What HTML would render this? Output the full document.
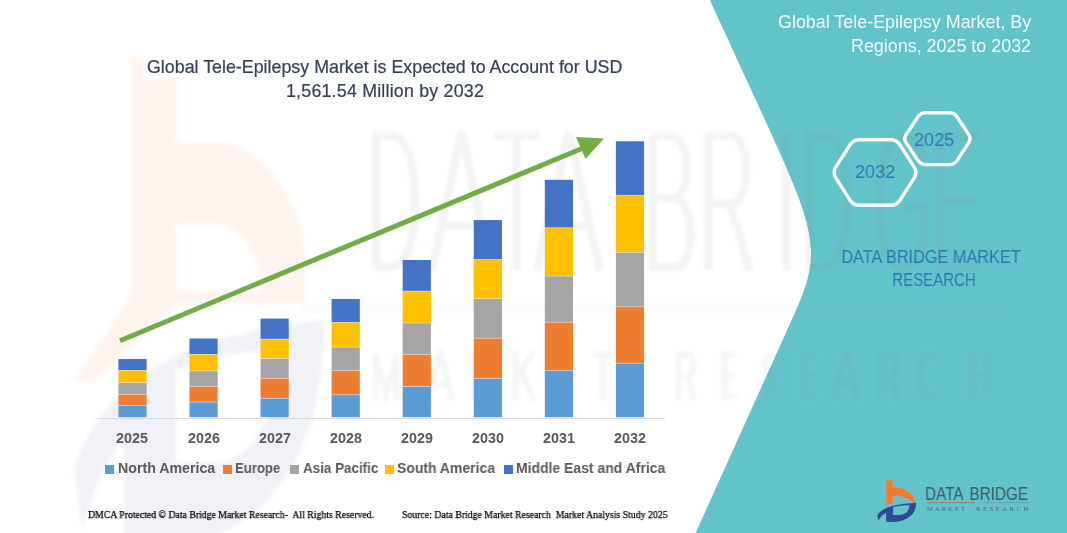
<!DOCTYPE html>
<html><head><meta charset="utf-8">
<style>
html,body{margin:0;padding:0;}
body{width:1067px;height:533px;overflow:hidden;background:#fff;position:relative;font-family:"Liberation Sans",sans-serif;}
.abs{position:absolute;white-space:pre;will-change:transform;}
svg{position:absolute;left:0;top:0;}
.t1{color:#343e58;font-size:17.83px;line-height:1;-webkit-text-stroke:0.2px #343e58;}
.yl{font-weight:bold;color:#595959;font-size:13.8px;line-height:1;}
.lg{font-weight:bold;color:#595959;font-size:14.2px;line-height:1;}
.ft{font-family:"Liberation Serif",serif;color:#000;-webkit-text-stroke:0.25px #000;font-size:10.5px;line-height:1;transform-origin:0 0;}
</style></head>
<body>
<svg width="1067" height="533" viewBox="0 0 1067 533">
  <defs><filter id="blur1" x="-10%" y="-10%" width="120%" height="120%"><feGaussianBlur stdDeviation="1.4"/></filter><filter id="blur3" x="-20%" y="-20%" width="140%" height="140%"><feGaussianBlur stdDeviation="2"/></filter></defs>
  <!-- teal panel -->
  <path d="M709.8 0 L762.7 115 C817 233.1 822.7 251.2 793.9 315 L695.6 533 L1067 533 L1067 0 Z" fill="#63c3ca"/>
  <!-- watermark logo (faint) -->
  <g filter="url(#blur3)">
    <path d="M131 57 H176 V143 H216 C262 143 305 200 305 262 V303 H176 L94 381 L74 381 L131 296 Z M176 224 H215 C242 226 262 255 263 291 H176 Z" fill="#fef3ee" fill-rule="evenodd"/>
    <path transform="translate(66.4,57) scale(6.4,11.6)" d="M1.2 35.4 C6 28 17 24 40.1 22.7 C40.5 30 37 39 20 42 L9 41.8 L9 33 C7 34.5 4 37 2.5 41 Z M17.1 27 C22 25.8 28 25.3 33.5 25.3 C33.5 30 30 34.5 24 34.9 L17.1 34.9 Z" fill="#eff1f7" fill-rule="evenodd"/>
  </g>
  <!-- watermark letters -->
  <g fill="none" stroke="#707070" stroke-opacity="0.085" stroke-width="8.5" stroke-linejoin="miter" filter="url(#blur1)">
    <path d="M376.5 135.5 V266.5 H391.8 C423.05 266.5 423.05 135.5 391.8 135.5 Z"/>
    <path d="M432 270 L461.5 132 L491 270 M444.98 225.84 H478.02"/>
    <path d="M494 135.5 H540 M517.0 135.5 V270"/>
    <path d="M537 270 L568.5 132 L600 270 M550.86 225.84 H586.14"/>
    <path d="M652.5 135.5 V266.5 H675.5 C696.1 266.5 696.1 198.24 673.2 198.24 H652.5 M673.2 198.24 C691.5 198.24 691.5 135.5 670.9 135.5 H652.5"/>
    <path d="M708.5 270 V135.5 H730.1 C751.9 135.5 751.9 203.76 730.1 203.76 H708.5 M730.1 203.76 L749.5 270"/>
    <path d="M786.5 132 V270"/>
    <path d="M809.5 135.5 V266.5 H824.5 C855.0 266.5 855.0 135.5 824.5 135.5 Z"/>
    <path d="M924.5 159.6 C918.9 135.5 905.6 135.5 900.0 135.5 C872.7 135.5 872.7 266.5 900.0 266.5 C924.5 266.5 924.5 249.3 924.5 207.9 H902.8"/>
    <path d="M980 135.5 H940.5 V266.5 H980 M940.5 201.0 H975.7"/>
    <path d="M375.5 400 V354.5 L386.0 395.1 L396.5 354.5 V400" stroke-width="6" stroke-opacity="0.075"/>
    <path d="M429 400 L440.5 351 L452 400 M434.06 384.32 H446.94" stroke-width="6" stroke-opacity="0.075"/>
    <path d="M474.5 400 V354.5 H483.95 C489.55 354.5 489.55 376.48 483.95 376.48 H474.5 M483.95 376.48 L488.5 400" stroke-width="6" stroke-opacity="0.075"/>
    <path d="M515.5 351 V400 M534 351 L515.5 380.4 M522.1 373.05 L534 400" stroke-width="6" stroke-opacity="0.075"/>
    <path d="M570 354.5 H556.5 V396.5 H570 M556.5 375.5 H568.3" stroke-width="6" stroke-opacity="0.075"/>
    <path d="M594 354.5 H612 M603.0 354.5 V400" stroke-width="6" stroke-opacity="0.075"/>
    <path d="M678.5 400 V354.5 H688.4 C694.6 354.5 694.6 376.48 688.4 376.48 H678.5 M688.4 376.48 L693.5 400" stroke-width="6" stroke-opacity="0.075"/>
    <path d="M736 354.5 H724.5 V396.5 H736 M724.5 375.5 H734.5" stroke-width="6" stroke-opacity="0.075"/>
    <path d="M773.5 358.35 C770.3 354.5 764.5 354.5 764.5 364.23 C764.5 375.5 773.5 373.05 773.5 386.28 C773.5 396.5 766.1 396.5 764.5 392.65" stroke-width="6" stroke-opacity="0.075"/>
    <path d="M815 354.5 H804.5 V396.5 H815 M804.5 375.5 H813.6" stroke-width="6" stroke-opacity="0.075"/>
    <path d="M834 400 L846.0 351 L858 400 M839.28 384.32 H852.72" stroke-width="6" stroke-opacity="0.075"/>
    <path d="M882.5 400 V354.5 H891.95 C897.55 354.5 897.55 376.48 891.95 376.48 H882.5 M891.95 376.48 L896.5 400" stroke-width="6" stroke-opacity="0.075"/>
    <path d="M934.5 358.35 C930.3 354.5 929.6 354.5 927.5 354.5 C919.45 354.5 919.45 396.5 927.5 396.5 C932.4 396.5 934.5 395.1 934.5 392.65" stroke-width="6" stroke-opacity="0.075"/>
    <path d="M971.5 351 V400 M986.5 351 V400 M971.5 375.5 H986.5" stroke-width="6" stroke-opacity="0.075"/>
    <line x1="300" y1="308" x2="1005" y2="308" stroke-width="10" stroke-opacity="0.03"/>
  </g>
  <rect x="143.5" y="49" width="482" height="30.5" fill="#fff"/>
  <!-- axis -->
  <line x1="96" y1="418.5" x2="665" y2="418.5" stroke="#d9d9d9" stroke-width="1"/>
  <g id="bars">
  <rect x="118.40" y="359.00" width="28.2" height="11.40" fill="#4472c4"/>
  <rect x="118.40" y="370.40" width="28.2" height="12.30" fill="#ffc000"/>
  <rect x="118.40" y="382.70" width="28.2" height="11.70" fill="#a5a5a5"/>
  <rect x="118.40" y="394.40" width="28.2" height="11.20" fill="#ed7d31"/>
  <rect x="118.40" y="405.60" width="28.2" height="11.60" fill="#5b9bd5"/>
  <rect x="118.40" y="370.00" width="28.2" height="0.8" fill="#fff" fill-opacity="0.45"/>
  <rect x="118.40" y="382.30" width="28.2" height="0.8" fill="#fff" fill-opacity="0.45"/>
  <rect x="118.40" y="394.00" width="28.2" height="0.8" fill="#fff" fill-opacity="0.45"/>
  <rect x="118.40" y="405.20" width="28.2" height="0.8" fill="#fff" fill-opacity="0.45"/>
  <rect x="189.47" y="338.50" width="28.2" height="15.90" fill="#4472c4"/>
  <rect x="189.47" y="354.40" width="28.2" height="16.50" fill="#ffc000"/>
  <rect x="189.47" y="370.90" width="28.2" height="15.70" fill="#a5a5a5"/>
  <rect x="189.47" y="386.60" width="28.2" height="15.50" fill="#ed7d31"/>
  <rect x="189.47" y="402.10" width="28.2" height="15.10" fill="#5b9bd5"/>
  <rect x="189.47" y="354.00" width="28.2" height="0.8" fill="#fff" fill-opacity="0.45"/>
  <rect x="189.47" y="370.50" width="28.2" height="0.8" fill="#fff" fill-opacity="0.45"/>
  <rect x="189.47" y="386.20" width="28.2" height="0.8" fill="#fff" fill-opacity="0.45"/>
  <rect x="189.47" y="401.70" width="28.2" height="0.8" fill="#fff" fill-opacity="0.45"/>
  <rect x="260.54" y="318.60" width="28.2" height="20.50" fill="#4472c4"/>
  <rect x="260.54" y="339.10" width="28.2" height="19.40" fill="#ffc000"/>
  <rect x="260.54" y="358.50" width="28.2" height="20.00" fill="#a5a5a5"/>
  <rect x="260.54" y="378.50" width="28.2" height="19.90" fill="#ed7d31"/>
  <rect x="260.54" y="398.40" width="28.2" height="18.80" fill="#5b9bd5"/>
  <rect x="260.54" y="338.70" width="28.2" height="0.8" fill="#fff" fill-opacity="0.45"/>
  <rect x="260.54" y="358.10" width="28.2" height="0.8" fill="#fff" fill-opacity="0.45"/>
  <rect x="260.54" y="378.10" width="28.2" height="0.8" fill="#fff" fill-opacity="0.45"/>
  <rect x="260.54" y="398.00" width="28.2" height="0.8" fill="#fff" fill-opacity="0.45"/>
  <rect x="331.61" y="299.00" width="28.2" height="23.50" fill="#4472c4"/>
  <rect x="331.61" y="322.50" width="28.2" height="24.60" fill="#ffc000"/>
  <rect x="331.61" y="347.10" width="28.2" height="23.60" fill="#a5a5a5"/>
  <rect x="331.61" y="370.70" width="28.2" height="24.10" fill="#ed7d31"/>
  <rect x="331.61" y="394.80" width="28.2" height="22.40" fill="#5b9bd5"/>
  <rect x="331.61" y="322.10" width="28.2" height="0.8" fill="#fff" fill-opacity="0.45"/>
  <rect x="331.61" y="346.70" width="28.2" height="0.8" fill="#fff" fill-opacity="0.45"/>
  <rect x="331.61" y="370.30" width="28.2" height="0.8" fill="#fff" fill-opacity="0.45"/>
  <rect x="331.61" y="394.40" width="28.2" height="0.8" fill="#fff" fill-opacity="0.45"/>
  <rect x="402.68" y="260.00" width="28.2" height="31.10" fill="#4472c4"/>
  <rect x="402.68" y="291.10" width="28.2" height="31.90" fill="#ffc000"/>
  <rect x="402.68" y="323.00" width="28.2" height="31.60" fill="#a5a5a5"/>
  <rect x="402.68" y="354.60" width="28.2" height="31.90" fill="#ed7d31"/>
  <rect x="402.68" y="386.50" width="28.2" height="30.70" fill="#5b9bd5"/>
  <rect x="402.68" y="290.70" width="28.2" height="0.8" fill="#fff" fill-opacity="0.45"/>
  <rect x="402.68" y="322.60" width="28.2" height="0.8" fill="#fff" fill-opacity="0.45"/>
  <rect x="402.68" y="354.20" width="28.2" height="0.8" fill="#fff" fill-opacity="0.45"/>
  <rect x="402.68" y="386.10" width="28.2" height="0.8" fill="#fff" fill-opacity="0.45"/>
  <rect x="473.75" y="220.10" width="28.2" height="39.50" fill="#4472c4"/>
  <rect x="473.75" y="259.60" width="28.2" height="39.10" fill="#ffc000"/>
  <rect x="473.75" y="298.70" width="28.2" height="39.50" fill="#a5a5a5"/>
  <rect x="473.75" y="338.20" width="28.2" height="40.30" fill="#ed7d31"/>
  <rect x="473.75" y="378.50" width="28.2" height="38.70" fill="#5b9bd5"/>
  <rect x="473.75" y="259.20" width="28.2" height="0.8" fill="#fff" fill-opacity="0.45"/>
  <rect x="473.75" y="298.30" width="28.2" height="0.8" fill="#fff" fill-opacity="0.45"/>
  <rect x="473.75" y="337.80" width="28.2" height="0.8" fill="#fff" fill-opacity="0.45"/>
  <rect x="473.75" y="378.10" width="28.2" height="0.8" fill="#fff" fill-opacity="0.45"/>
  <rect x="544.82" y="179.80" width="28.2" height="48.00" fill="#4472c4"/>
  <rect x="544.82" y="227.80" width="28.2" height="48.30" fill="#ffc000"/>
  <rect x="544.82" y="276.10" width="28.2" height="46.10" fill="#a5a5a5"/>
  <rect x="544.82" y="322.20" width="28.2" height="48.50" fill="#ed7d31"/>
  <rect x="544.82" y="370.70" width="28.2" height="46.50" fill="#5b9bd5"/>
  <rect x="544.82" y="227.40" width="28.2" height="0.8" fill="#fff" fill-opacity="0.45"/>
  <rect x="544.82" y="275.70" width="28.2" height="0.8" fill="#fff" fill-opacity="0.45"/>
  <rect x="544.82" y="321.80" width="28.2" height="0.8" fill="#fff" fill-opacity="0.45"/>
  <rect x="544.82" y="370.30" width="28.2" height="0.8" fill="#fff" fill-opacity="0.45"/>
  <rect x="615.89" y="141.30" width="28.2" height="54.30" fill="#4472c4"/>
  <rect x="615.89" y="195.60" width="28.2" height="56.80" fill="#ffc000"/>
  <rect x="615.89" y="252.40" width="28.2" height="54.40" fill="#a5a5a5"/>
  <rect x="615.89" y="306.80" width="28.2" height="56.40" fill="#ed7d31"/>
  <rect x="615.89" y="363.20" width="28.2" height="54.00" fill="#5b9bd5"/>
  <rect x="615.89" y="195.20" width="28.2" height="0.8" fill="#fff" fill-opacity="0.45"/>
  <rect x="615.89" y="252.00" width="28.2" height="0.8" fill="#fff" fill-opacity="0.45"/>
  <rect x="615.89" y="306.40" width="28.2" height="0.8" fill="#fff" fill-opacity="0.45"/>
  <rect x="615.89" y="362.80" width="28.2" height="0.8" fill="#fff" fill-opacity="0.45"/>
  </g>
  <!-- arrow -->
  <line x1="120" y1="340.7" x2="582" y2="148.5" stroke="#70ad47" stroke-width="5"/>
  <polygon points="576,137 604,138.5 585.5,159" fill="#70ad47"/>
  <!-- hexagons -->
  <path d="M835.62 177.56 Q832.40 172.50 835.62 167.44 L850.08 144.76 Q853.30 139.70 859.30 139.70 L890.70 139.70 Q896.70 139.70 899.92 144.76 L914.38 167.44 Q917.60 172.50 914.38 177.56 L899.92 200.24 Q896.70 205.30 890.70 205.30 L859.30 205.30 Q853.30 205.30 850.08 200.24 Z" fill="none" stroke="#fff" stroke-width="3.4"/>
  <path d="M906.17 142.87 Q903.40 138.70 906.17 134.53 L917.83 116.97 Q920.60 112.80 925.60 112.80 L949.40 112.80 Q954.40 112.80 957.14 116.98 L968.66 134.52 Q971.40 138.70 968.66 142.88 L957.14 160.42 Q954.40 164.60 949.40 164.60 L925.60 164.60 Q920.60 164.60 917.83 160.43 Z" fill="none" stroke="#fff" stroke-width="3.4"/>
  <!-- small logo -->
  <g transform="translate(876,480)">
    <path d="M10.1 0.2 H16.8 V7.3 C24 7.5 35 10 38.7 19.5 L39 22.3 L36.3 22.5 C34 19 27 15.5 16.8 15.2 V23.5 L8.5 24.5 L10.1 22 Z" fill="#f47a2e"/>
    <path d="M1.2 35.4 C6 28 17 24 40.1 22.7 C40.5 30 37 39 20 42 L10.1 41.8 L10.1 33 C7 34.5 4 37 2.5 41 Z M17.1 27 C22 25.8 28 25.3 33.5 25.3 C33.5 30 30 34.5 24 34.9 L17.1 34.9 Z" fill="#2f4a93" fill-rule="evenodd"/>
  </g>
  <line x1="927" y1="502.6" x2="975" y2="502.6" stroke="#9a7a62" stroke-width="0.9"/>
  <line x1="978.5" y1="502.6" x2="1031" y2="502.6" stroke="#7d99a6" stroke-width="0.9"/>
</svg>

<div class="abs t1" style="left:147.3px;top:59px;">Global Tele-Epilepsy Market is Expected to Account for USD</div>
<div class="abs t1" style="left:285.5px;top:83px;letter-spacing:0.2px;">1,561.54 Million by 2032</div>

<div class="abs yl" style="left:91.90px;width:80px;text-align:center;top:432px;transform:scaleX(1.035);">2025</div>
<div class="abs yl" style="left:163.90px;width:80px;text-align:center;top:432px;transform:scaleX(1.035);">2026</div>
<div class="abs yl" style="left:234.85px;width:80px;text-align:center;top:432px;transform:scaleX(1.035);">2027</div>
<div class="abs yl" style="left:306.25px;width:80px;text-align:center;top:432px;transform:scaleX(1.035);">2028</div>
<div class="abs yl" style="left:376.85px;width:80px;text-align:center;top:432px;transform:scaleX(1.035);">2029</div>
<div class="abs yl" style="left:448.10px;width:80px;text-align:center;top:432px;transform:scaleX(1.035);">2030</div>
<div class="abs yl" style="left:518.85px;width:80px;text-align:center;top:432px;transform:scaleX(1.035);">2031</div>
<div class="abs yl" style="left:590.10px;width:80px;text-align:center;top:432px;transform:scaleX(1.035);">2032</div>
<div class="abs" style="left:105.2px;top:464.6px;width:9px;height:9.2px;background:#5b9bd5;"></div>
<div class="abs lg" style="left:118.0px;top:460.8px;transform:scaleX(0.999);transform-origin:0 0;">North America</div>
<div class="abs" style="left:223.0px;top:464.6px;width:9px;height:9.2px;background:#ed7d31;"></div>
<div class="abs lg" style="left:234.7px;top:460.8px;transform:scaleX(0.926);transform-origin:0 0;">Europe</div>
<div class="abs" style="left:289.6px;top:464.6px;width:9px;height:9.2px;background:#a5a5a5;"></div>
<div class="abs lg" style="left:302.70000000000005px;top:460.8px;transform:scaleX(0.946);transform-origin:0 0;">Asia Pacific</div>
<div class="abs" style="left:385.2px;top:464.6px;width:9px;height:9.2px;background:#ffc000;"></div>
<div class="abs lg" style="left:397.40000000000003px;top:460.8px;transform:scaleX(0.984);transform-origin:0 0;">South America</div>
<div class="abs" style="left:503.6px;top:464.6px;width:9px;height:9.2px;background:#4472c4;"></div>
<div class="abs lg" style="left:516.1px;top:460.8px;transform:scaleX(0.984);transform-origin:0 0;">Middle East and Africa</div>

<div class="abs ft" style="left:88px;top:510px;transform:scaleX(0.93);">DMCA Protected © Data Bridge Market Research-  All Rights Reserved.</div>
<div class="abs ft" style="left:402px;top:510px;transform:scaleX(0.932);">Source: Data Bridge Market Research  Market Analysis Study 2025</div>

<div class="abs" style="right:36px;top:10px;color:#f4fcfc;font-size:17.9px;line-height:24px;text-align:right;">Global Tele-Epilepsy Market, By</div>
<div class="abs" style="right:36px;top:34px;color:#f4fcfc;font-size:17.9px;line-height:24px;text-align:right;">Regions, 2025 to 2032</div>

<div class="abs" style="left:855px;top:162px;color:#2e78b4;font-size:19px;line-height:1;transform:scaleX(0.95);transform-origin:0 0;">2032</div>
<div class="abs" style="left:913.5px;top:130px;color:#2e78b4;font-size:19px;line-height:1;transform:scaleX(0.95);transform-origin:0 0;">2025</div>

<div class="abs" style="left:831.2px;width:200px;text-align:center;top:248.6px;color:#2a78b0;font-size:17.9px;line-height:1;transform:scaleX(0.91);transform-origin:100px 0;">DATA BRIDGE MARKET</div>
<div class="abs" style="left:834.2px;width:200px;text-align:center;top:272.2px;color:#2a78b0;font-size:17.9px;line-height:1;transform:scaleX(0.84);transform-origin:100px 0;">RESEARCH</div>

<div class="abs" style="left:925.3px;top:485.3px;color:#3d5a66;font-size:18px;line-height:1;transform:scaleX(0.85);transform-origin:0 0;">DATA<span style="letter-spacing:2px"> </span>BRIDGE</div>
<div class="abs" style="left:926.5px;top:505.5px;color:#4a6670;font-family:'Liberation Serif',serif;font-size:6.5px;line-height:1;letter-spacing:2.1px;">MARKET</div>
<div class="abs" style="left:976px;top:505.5px;color:#4a6670;font-family:'Liberation Serif',serif;font-size:6.5px;line-height:1;letter-spacing:2.6px;">RESEARCH</div>

</body></html>
